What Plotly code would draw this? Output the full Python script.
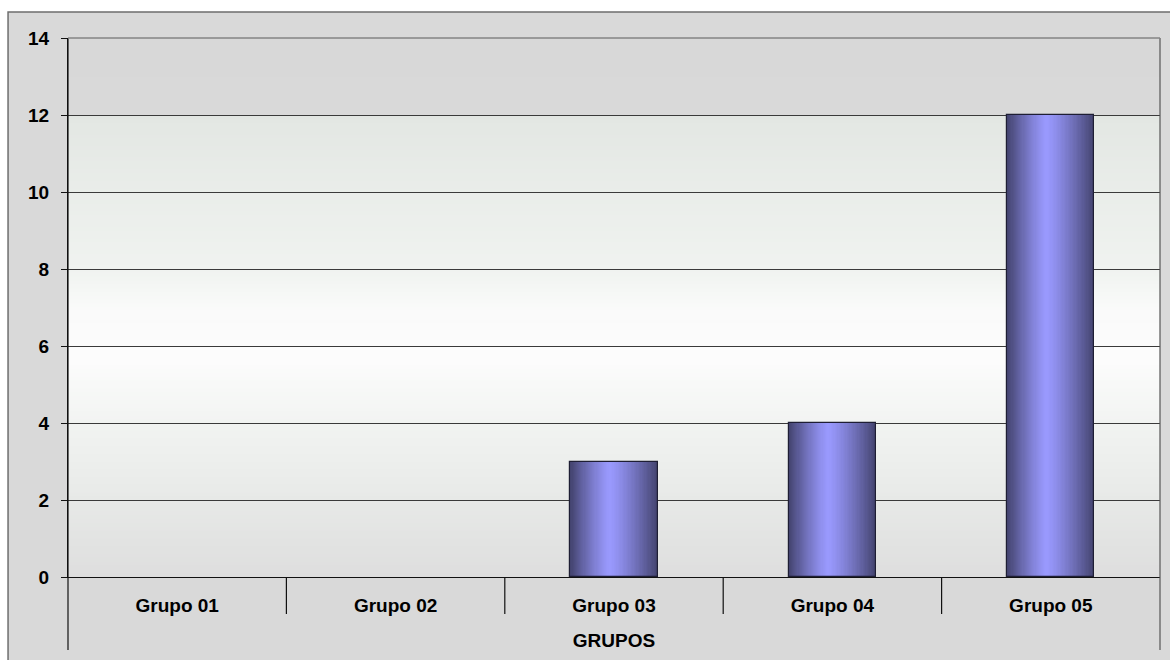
import plotly.graph_objects as go

# ---- data ----
categories = ["Grupo 01", "Grupo 02", "Grupo 03", "Grupo 04", "Grupo 05"]
values = [0, 0, 3, 4, 12]
y_ticks = [0, 2, 4, 6, 8, 10, 12, 14]
x_title = "GRUPOS"

FONT = "Liberation Sans, Arial, sans-serif"

def hex2rgb(h):
    h = h.lstrip("#")
    return tuple(int(h[i:i + 2], 16) for i in (0, 2, 4))

def mix(c1, c2, t):
    return tuple(round(a + (b - a) * t) for a, b in zip(c1, c2))

def rgb(c):
    return "rgb(%d,%d,%d)" % c

fig = go.Figure()

# ---- cylinder-like shaded bars: stacked overlay layers of go.Bar ----
BAR_W = 0.4
HL = 0.45            # highlight position across the bar (fraction)
dark = (68, 68, 112)
light = (154, 154, 255)
N = 36
for k in range(N):
    t = k / N                       # 0 = outer edge, ->1 = highlight
    left = HL * t
    right = 1 - (1 - HL) * t
    d = 1 - t
    inten = 1 - d ** 1.25
    col = mix(dark, light, inten)
    fig.add_trace(go.Bar(
        x=categories, y=values,
        width=BAR_W * (right - left),
        offset=-BAR_W / 2 + BAR_W * left,
        marker=dict(color=rgb(col), line=dict(width=0)),
        showlegend=False, hoverinfo="skip",
    ))
# outline (no outline for empty bars)
fig.add_trace(go.Bar(
    x=categories, y=values, width=BAR_W, offset=-BAR_W / 2,
    marker=dict(color="rgba(0,0,0,0)",
                line=dict(color="#1e1e34", width=[1.2 if v > 0 else 0 for v in values])),
    showlegend=False, hovertemplate="%{x}: %{y}<extra></extra>",
))

shapes = []

# outer chart frame
shapes.append(dict(type="rect", xref="paper", yref="paper",
                   x0=-0.0549, x1=1.03, y0=-0.25, y1=1.0482,
                   fillcolor="#d9d9d9", line=dict(color="#6e6e6e", width=1.5),
                   layer="below"))

# plot-area vertical gradient
stops = [(0.0, "#dedede"), (0.14, "#e7e9e7"), (0.29, "#f2f4f2"), (0.40, "#fcfcfc"),
         (0.50, "#fafafa"), (0.57, "#f0f3f0"), (0.853, "#e3e7e3"), (0.86, "#d9d9d9"),
         (1.0, "#d8d8d8")]
def grad(f):
    for (a, ca), (b, cb) in zip(stops[:-1], stops[1:]):
        if a <= f <= b:
            return mix(hex2rgb(ca), hex2rgb(cb), (f - a) / (b - a) if b > a else 0)
    return hex2rgb(stops[-1][1])
NS = 140
for i in range(NS):
    f0 = i / NS
    f1 = (i + 1) / NS
    shapes.append(dict(type="rect", xref="x domain", yref="y domain",
                       x0=0, x1=1, y0=f0, y1=min(1, f1 + 0.003),
                       fillcolor=rgb(grad((f0 + f1) / 2)), line=dict(width=0),
                       layer="below"))

# category divider lines below the axis
for i in range(len(categories) - 1):
    shapes.append(dict(type="line", xref="x", yref="paper",
                       x0=i + 0.5, x1=i + 0.5, y0=0, y1=-0.0686,
                       line=dict(color="#111111", width=1.2)))
# long left / right lines
shapes.append(dict(type="line", xref="paper", yref="paper", x0=0, x1=0,
                   y0=1, y1=-0.1354, line=dict(color="#111111", width=1.2)))
shapes.append(dict(type="line", xref="paper", yref="paper", x0=1, x1=1,
                   y0=1, y1=-0.1354, line=dict(color="#555555", width=1.2)))
# top border of plot area (grey)
shapes.append(dict(type="line", xref="paper", yref="paper", x0=0, x1=1,
                   y0=1, y1=1, line=dict(color="#858585", width=1.5)))

fig.update_layout(
    width=1170, height=660,
    margin=dict(l=68, r=10, t=38, b=83, autoexpand=False),
    paper_bgcolor="white",
    plot_bgcolor="rgba(0,0,0,0)",
    barmode="overlay",
    bargap=0,
    shapes=shapes,
    font=dict(family=FONT, color="black"),
    xaxis=dict(
        type="category", categoryorder="array", categoryarray=categories,
        range=[-0.5, len(categories) - 0.5],
        showline=True, linecolor="#111111", linewidth=1.2,
        showgrid=False, zeroline=False, ticks="",
        tickfont=dict(family=FONT, size=19, weight="bold", color="black"),
        ticklabelstandoff=11,
        title=dict(text=x_title, standoff=18,
                   font=dict(family=FONT, size=19, weight="bold", color="black")),
    ),
    yaxis=dict(
        range=[0, 14], tickvals=y_ticks,
        showline=True, linecolor="#111111", linewidth=1.2,
        ticks="outside", ticklen=6, tickcolor="#111111", tickwidth=1.2,
        showgrid=True, gridcolor="#3a3a3a", gridwidth=1,
        zeroline=False,
        tickfont=dict(family=FONT, size=19, weight="bold", color="black"),
        ticklabelstandoff=8,
    ),
)

fig.write_html("out.html")
